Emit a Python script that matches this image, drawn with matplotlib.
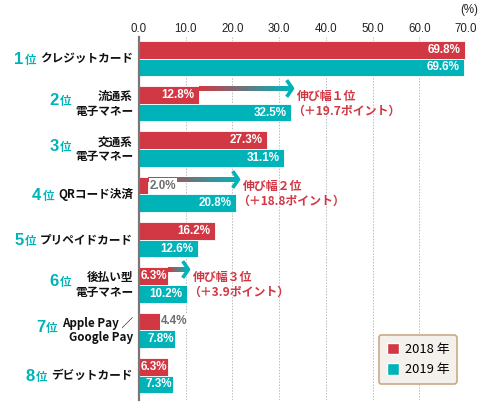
import matplotlib
matplotlib.use("Agg")
import matplotlib.pyplot as plt
import numpy as np
from matplotlib.collections import LineCollection
from matplotlib.patches import Patch
from matplotlib.path import Path

plt.rcParams['font.family'] = ['Noto Sans CJK JP', 'DejaVu Sans']
NUMFONT = ['Liberation Sans', 'DejaVu Sans']

categories = ["クレジットカード", "流通系\n電子マネー", "交通系\n電子マネー", "QRコード決済",
              "プリペイドカード", "後払い型\n電子マネー", "Apple Pay ／\nGoogle Pay", "デビットカード"]
ranks = ["1", "2", "3", "4", "5", "6", "7", "8"]
v2018 = [69.8, 12.8, 27.3, 2.0, 16.2, 6.3, 4.4, 6.3]
v2019 = [69.6, 32.5, 31.1, 20.8, 12.6, 10.2, 7.8, 7.3]
series_names = ["2018 年", "2019 年"]
growth_idx = [1, 3, 5]
growth_text = ["伸び幅１位\n（＋19.7ポイント）", "伸び幅２位\n（＋18.8ポイント）", "伸び幅３位\n（＋3.9ポイント）"]
xticks = [0, 10, 20, 30, 40, 50, 60, 70]

RED = "#d13843"
TEAL = "#00b3b9"
GRAY = "#6e6e6e"

fig = plt.figure(figsize=(4.8, 4.04), dpi=100)
ax = fig.add_axes([139/480, 1-400/404, 327/480, 363/404])

n = len(categories)
y = np.arange(n)
h = 0.39
ax.barh(y - 0.195, v2018, height=h, color=RED, edgecolor="white", linewidth=0.6, zorder=3)
ax.barh(y + 0.195, v2019, height=h, color=TEAL, edgecolor="white", linewidth=0.6, zorder=3)

ax.set_xlim(0, 70)
ax.set_ylim(n - 0.46, -0.475)
ax.xaxis.tick_top()
ax.set_xticks(xticks)
ax.set_xticklabels([f"{t:.1f}" for t in xticks], fontsize=8.3, color="#222222", family=NUMFONT)
ax.tick_params(axis='x', length=0, pad=1.5)
ax.set_yticks([])
for s in ["top", "right", "bottom"]:
    ax.spines[s].set_visible(False)
ax.spines["left"].set_color("#777777")
ax.spines["left"].set_linewidth(1.6)
ax.spines["left"].set_zorder(5)
ax.grid(axis='x', color="#bbbbbb", linestyle=(0, (1.5, 1.5)), linewidth=0.7, zorder=0)
ax.set_axisbelow(True)

fig.text(478/480, 1-10/404, "(%)", ha="right", va="center", fontsize=8.3, color="#222222",
         family=NUMFONT)

# value labels
for i in range(n):
    for val, yy in ((v2018[i], y[i] - 0.195), (v2019[i], y[i] + 0.195)):
        if val < 5:
            ax.annotate(f"{val:.1f}%", (val, yy), xytext=(1, 0), textcoords="offset points",
                        ha="left", va="center", fontsize=8.4, fontweight="bold", color=GRAY, zorder=6,
                        family=NUMFONT,
                        bbox=dict(boxstyle="square,pad=0.1", fc="white", ec="none"))
        else:
            pad = -1.0 if val < 9 else -3.0
            ax.annotate(f"{val:.1f}%", (val, yy), xytext=(pad, 0), textcoords="offset points",
                        ha="right", va="center", fontsize=8.4, fontweight="bold", color="white",
                        zorder=6, family=NUMFONT)

# growth arrows
chev = Path([(-0.7, 1.0), (0.0, 0.0), (-0.7, -1.0)], [Path.MOVETO, Path.LINETO, Path.LINETO])
red_rgb = np.array(matplotlib.colors.to_rgb(RED))
teal_rgb = np.array(matplotlib.colors.to_rgb(TEAL))
for k, i in enumerate(growth_idx):
    x0 = v2018[i]
    x1 = v2019[i] + 0.3
    ly = y[i] - 0.35
    xs = np.linspace(x0, x1 - 0.3, 80)
    segs = [[(xs[j], ly), (xs[min(j+2, len(xs)-1)], ly)] for j in range(len(xs)-1)]
    t = np.linspace(0, 1, len(segs))
    cols = [tuple(red_rgb*(1-tt) + teal_rgb*tt) for tt in t]
    lc = LineCollection(segs, colors=cols, linewidths=2.3, zorder=4, capstyle="butt",
                        antialiaseds=False)
    ax.add_collection(lc)
    ax.plot([x1], [ly], marker=chev, markersize=12, markerfacecolor="none",
            markeredgecolor=TEAL, markeredgewidth=2.6, zorder=5, clip_on=False)
    lines = growth_text[k].split("\n")
    ax.annotate(lines[0], (x1, y[i] - 0.17), xytext=(5, 0), textcoords="offset pixels",
                ha="left", va="center", fontsize=8.6, fontweight="bold", color=RED, zorder=6)
    ax.annotate(lines[1], (x1, y[i] + 0.16), xytext=(0, 0), textcoords="offset pixels",
                ha="left", va="center", fontsize=8.6, fontweight="bold", color=RED, zorder=6)

# category labels
fig.canvas.draw()
renderer = fig.canvas.get_renderer()
name_texts = []
for i in range(n):
    tx = ax.annotate(categories[i], (0, y[i]), xytext=(-6, 0), textcoords="offset pixels",
                     ha="right", va="center", fontsize=8.4, fontweight="bold", color="#111111",
                     linespacing=1.15, multialignment="right", annotation_clip=False)
    name_texts.append(tx)
fig.canvas.draw()
for i in range(n):
    bb = name_texts[i].get_window_extent(renderer)
    two = "\n" in categories[i]
    cy = (bb.y0 + bb.y1) / 2 + (4 if two else 0)
    base = cy - 5.5
    t_i = fig.text((bb.x0 - 4) / 480, base / 404, "位", ha="right", va="baseline",
                   fontsize=8.3, fontweight="bold", color=TEAL)
    fig.canvas.draw()
    bi = t_i.get_window_extent(renderer)
    fig.text((bi.x0 - 1) / 480, base / 404, ranks[i], ha="right", va="baseline",
             fontsize=12, fontweight="bold", color=TEAL, family=NUMFONT)

handles = [Patch(facecolor=RED, edgecolor="white"), Patch(facecolor=TEAL, edgecolor="white")]
leg = fig.legend(handles, series_names, loc="lower right",
                 bbox_to_anchor=(457/480, 1-384/404), bbox_transform=fig.transFigure,
                 fontsize=9.3, frameon=True, fancybox=True, handlelength=1.0, handleheight=1.0,
                 handletextpad=0.4, labelspacing=0.55, borderpad=0.6, borderaxespad=0)
fr = leg.get_frame()
fr.set_facecolor("#f4f1ec")
fr.set_edgecolor("#c9aa85")
fr.set_linewidth(1.2)
fr.set_alpha(1)

fig.savefig("out.png", dpi=100)
